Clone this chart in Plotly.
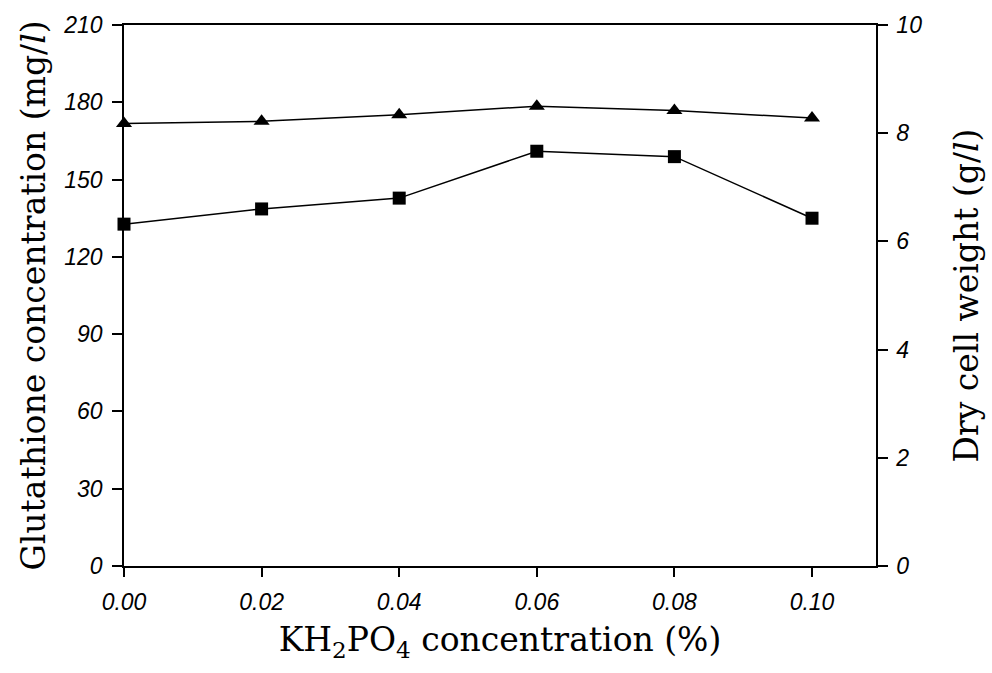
import plotly.graph_objects as go

kh2po4 = [0.00, 0.02, 0.04, 0.06, 0.08, 0.10]
glutathione = [132.7, 138.6, 142.8, 161.0, 158.9, 135.0]
dry_cell_weight = [8.18, 8.22, 8.34, 8.50, 8.42, 8.28]

x_ticks = [0.00, 0.02, 0.04, 0.06, 0.08, 0.10]
y_ticks = [0, 30, 60, 90, 120, 150, 180, 210]
y2_ticks = [0, 2, 4, 6, 8, 10]

tick_font = dict(family="Liberation Sans", size=23, color="black", style="italic")
title_font = dict(family="DejaVu Serif", size=33, color="black")

fig = go.Figure()
fig.add_trace(go.Scatter(
    x=kh2po4, y=glutathione, mode="lines+markers",
    line=dict(color="black", width=1.5),
    marker=dict(symbol="square", size=13, color="black"),
    name="Glutathione", yaxis="y", cliponaxis=False))
fig.add_trace(go.Scatter(
    x=kh2po4, y=dry_cell_weight, mode="lines+markers",
    line=dict(color="black", width=1.5),
    marker=dict(symbol="triangle-up", size=14, color="black"),
    name="Dry cell weight", yaxis="y2", cliponaxis=False))

fig.update_layout(
    width=992, height=673,
    margin=dict(l=124, r=116, t=22, b=107),
    paper_bgcolor="white", plot_bgcolor="white",
    showlegend=False,
    xaxis=dict(
        range=[0, 0.1093], tickvals=x_ticks, tickformat=".2f",
        showline=True, linecolor="black", linewidth=1.5, mirror=True,
        ticks="outside", ticklen=9, tickcolor="black", tickwidth=1.5,
        ticklabelstandoff=6,
        showgrid=False, zeroline=False, tickfont=tick_font,
        title=dict(text="KH<sub>2</sub>PO<sub>4</sub> concentration (%)",
                   font=title_font, standoff=14)),
    yaxis=dict(
        range=[0, 210], tickvals=y_ticks,
        showline=True, linecolor="black", linewidth=1.5,
        ticks="outside", ticklen=10, tickcolor="black", tickwidth=1.5,
        ticklabelstandoff=5,
        showgrid=False, zeroline=False, tickfont=tick_font,
        title=dict(text="Glutathione concentration (mg/<i>l</i>)",
                   font=title_font, standoff=8)),
    yaxis2=dict(
        range=[0, 10], tickvals=y2_ticks, overlaying="y", side="right",
        showline=True, linecolor="black", linewidth=1.5,
        ticks="outside", ticklen=10, tickcolor="black", tickwidth=1.5,
        ticklabelstandoff=4,
        showgrid=False, zeroline=False, tickfont=tick_font,
        title=dict(text="Dry cell weight (g/<i>l</i>)",
                   font=title_font, standoff=34)),
)

fig.write_html("out.html")
